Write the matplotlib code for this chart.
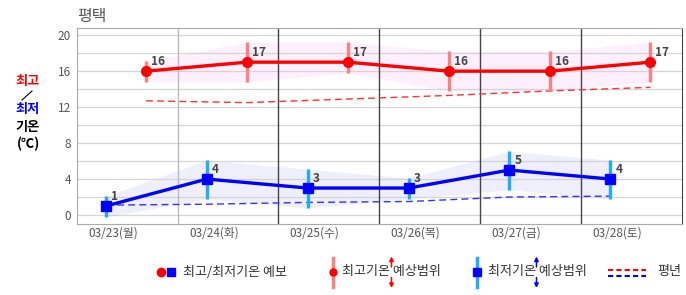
import matplotlib.pyplot as plt
import numpy as np

plt.rcParams['font.family'] = ['Noto Sans CJK KR', 'DejaVu Sans']

# forecast data
days = ['03/23(월)', '03/24(화)', '03/25(수)', '03/26(목)', '03/27(금)', '03/28(토)']
tmax = [16, 17, 17, 16, 16, 17]
tmax_up = [17.1, 19.2, 19.2, 18.2, 18.2, 19.2]
tmax_dn = [14.8, 14.8, 15.8, 13.8, 13.8, 14.8]
tmin = [1, 4, 3, 3, 5, 4]
tmin_up = [2.1, 6.1, 5.1, 4.1, 7.1, 6.1]
tmin_dn = [-0.2, 1.8, 0.8, 1.8, 2.8, 1.8]
norm_max = [12.7, 12.5, 12.9, 13.3, 13.8, 14.2]
norm_min = [1.1, 1.2, 1.4, 1.5, 2.0, 2.1]

W, H = 686, 295
fig = plt.figure(figsize=(W / 100, H / 100), dpi=100)
ax = fig.add_axes([76.7 / W, 71 / H, (682 - 76.7) / W, 196 / H])

d = np.arange(len(days))
x_lo = d + 0.29    # time of daily min
x_hi = d + 0.687   # time of daily max
x_lab = d + 0.36

# shaded ranges (under the grid)
ax.fill_between(x_hi, tmax_dn, tmax_up, color='#fdeffc', lw=0, zorder=0.3)
ax.fill_between(x_lo, tmin_dn, tmin_up, color='#efeffc', lw=0, zorder=0.3)

# grid
for yv in range(0, 21, 2):
    ax.axhline(yv, color='#cccccc', lw=0.9, alpha=0.8, zorder=0.5)
ax.axvline(1, color='#bbbbbb', lw=1, zorder=0.5)
for xv in range(2, 6):
    ax.axvline(xv, color='#444444', lw=1, zorder=0.5)

# normals
ax.plot(x_hi, norm_max, color='#ff3333', lw=1, dashes=(5, 3), zorder=2)
ax.plot(x_lo, norm_min, color='#3333ff', lw=1, dashes=(5, 3), zorder=2)

# range bars
ax.vlines(x_hi, tmax_dn, tmax_up, color='#ff8080', lw=2.4, zorder=3)
ax.vlines(x_lo, tmin_dn, tmin_up, color='#22aaff', lw=2.4, zorder=3)

# forecast lines
ax.plot(x_hi, tmax, color='#ff0000', lw=2.4, marker='o', ms=7, zorder=4)
ax.plot(x_lo, tmin, color='#0000ff', lw=2.4, marker='s', ms=7.5, zorder=4)

for xs, ys in ((x_hi, tmax), (x_lo, tmin)):
    for xv, yv in zip(xs, ys):
        ax.annotate(str(yv), (xv, yv), xytext=(3.6, 6.8), textcoords='offset points',
                    ha='left', va='center', fontsize=8.5, fontweight='bold',
                    color='#444444', zorder=5)

ax.set_xlim(0, 6)
ax.set_ylim(-1, 20.8)
ax.set_yticks(range(0, 21, 4))
ax.set_xticks(x_lab)
ax.set_xticklabels(days)
ax.tick_params(length=0, labelsize=8.5, labelcolor='#555555')
ax.tick_params(axis='y', pad=4)
ax.tick_params(axis='x', pad=2)
for s in ('top', 'left', 'bottom'):
    ax.spines[s].set_color('#aaaaaa')
ax.spines['right'].set_color('#444444')

# overlay in pixel coordinates for title, y label and legend
ov = fig.add_axes([0, 0, 1, 1])
ov.set_xlim(0, W)
ov.set_ylim(H, 0)
ov.set_axis_off()

ov.text(77, 16, '평택', fontsize=11.5, color='#555555', va='center', ha='left')

ylab = dict(fontsize=9.5, fontweight='bold', ha='center', va='center')
ov.text(28, 81, '최고', color='#ff0000', **ylab)
ov.plot([22, 32], [100, 91], color='black', lw=0.8)
ov.text(28, 109, '최저', color='#0000ff', **ylab)
ov.text(28, 127, '기온', color='black', **ylab)
ov.text(28, 144, '(℃)', color='black', **ylab)


def arrow(x, y0, y1, c):
    ov.annotate('', xy=(x, y1), xytext=(x, y0),
                arrowprops=dict(arrowstyle='-|>', color=c, lw=1.1, mutation_scale=6,
                                shrinkA=0, shrinkB=0))


# legend
ly = 272
ov.plot(161, ly, 'o', color='#ff0000', ms=6)
ov.plot(170.5, ly, 's', color='#0000ff', ms=6)
ov.text(183, ly, '최고/최저기온 예보', fontsize=9.4, color='#333333', va='center')

ov.plot([333, 333], [258, 287], color='#ff8080', lw=2.5)
ov.plot(333, ly, 'o', color='#ff0000', ms=5)
ov.text(342, ly, '최고기온 예상범위', fontsize=9.4, color='#333333', va='center')
arrow(391.5, 267, 256.5, 'red')
arrow(391.5, 277.5, 288, 'red')

ov.plot([477, 477], [258, 287], color='#22aaff', lw=2.5)
ov.plot(477, ly, 's', color='#0000ff', ms=5.5)
ov.text(488, ly, '최저기온 예상범위', fontsize=9.4, color='#333333', va='center')
arrow(536.5, 267, 256.5, 'blue')
arrow(536.5, 277.5, 288, 'blue')

ov.plot([608, 646], [270, 270], color='#ff0000', lw=1.5, dashes=(2.5, 1.5))
ov.plot([608, 646], [275.5, 275.5], color='#0000ff', lw=1.5, dashes=(2.5, 1.5))
ov.text(657, ly, '평년', fontsize=9.4, color='#333333', va='center')

fig.savefig('out.png', dpi=100)
